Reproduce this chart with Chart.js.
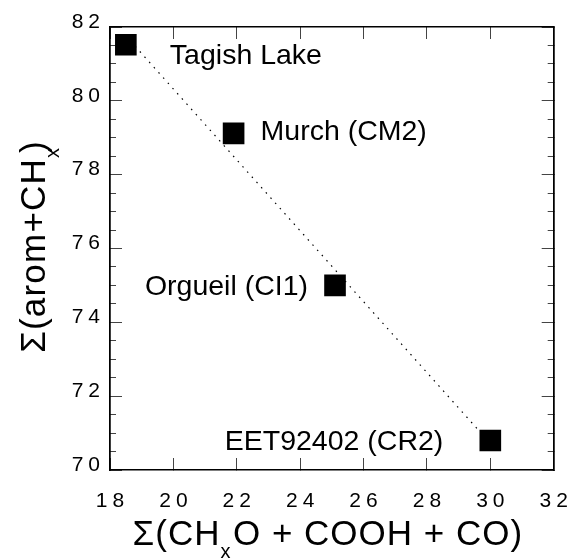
<!DOCTYPE html>
<html>
<head>
<meta charset="utf-8">
<script src="https://cdn.jsdelivr.net/npm/chart.js@4.4.1/dist/chart.umd.min.js"></script>
<style>
  html, body { margin: 0; background: #fff; }
  #wrap { position: relative; width: 569px; height: 558px; }
</style>
</head>
<body>
<div id="wrap"><canvas id="c"></canvas></div>
<script>
const FONT = "'Liberation Sans', Arial, Helvetica, sans-serif";

// samples
const NAMES = ['Tagish Lake', 'Murch (CM2)', 'Orgueil (CI1)', 'EET92402 (CR2)'];
const X_VALS = [18.5, 21.9, 25.1, 30.0];     // Σ(CHxO + COOH + CO)
const Y_VALS = [81.52, 79.12, 75.0, 70.8];   // Σ(arom+CHx)

// dotted trend line end points
const FIT_X = [18.5, 30.0];
const FIT_Y = [81.76, 70.72];

const X_TICKS = [18, 20, 22, 24, 26, 28, 30, 32];
const Y_TICKS = [70, 72, 74, 76, 78, 80, 82];
const Y_MINOR = 0.5;

// label placement relative to the marker: dx, baseline dy, alignment
const LABEL_POS = [[44, 19, 'left'], [27, 7, 'left'], [-27, 9.5, 'right'], [-47, 9.5, 'right']];

const X_TITLE = [['Σ(CH', 0], ['x', 1], ['O + COOH + CO)', 0]];
const Y_TITLE = [['Σ(arom+CH', 0], ['x', 1], [')', 0]];

const xMin = X_TICKS[0], xMax = X_TICKS[X_TICKS.length - 1], xStep = X_TICKS[1] - X_TICKS[0];
const yMin = Y_TICKS[0], yMax = Y_TICKS[Y_TICKS.length - 1], yStep = Y_TICKS[1] - Y_TICKS[0];

const TICK_COLOR = '#444';
const border = { display: true, color: '#000', width: 1.5 };

// keep the plot frame where the original has it, whatever the labels want
const noPad = s => { s.paddingLeft = s.paddingRight = s.paddingTop = s.paddingBottom = 0; };

// an axis that only contributes inward tick marks
function tickAxis(position, min, max, step, len) {
  return {
    type: 'linear', position, min, max,
    border,
    grid: { drawOnChartArea: false, drawTicks: true, tickLength: -len, color: TICK_COLOR, lineWidth: 1 },
    ticks: { display: false, stepSize: step, maxTicksLimit: 40 },
    afterFit: s => { if (s.isHorizontal()) s.height = 0; else s.width = 0; noPad(s); },
  };
}

function drawRich(ctx, parts, cx, baseY, size, subSize, subDrop, subAdv, sp) {
  const widths = parts.map(([t, sub]) => {
    ctx.font = (sub ? subSize : size) + 'px ' + FONT;
    ctx.letterSpacing = sub ? '0px' : sp + 'px';
    return ctx.measureText(t).width * (sub ? subAdv : 1);
  });
  let x = cx - widths.reduce((a, b) => a + b, 0) / 2;
  parts.forEach(([t, sub], i) => {
    ctx.font = (sub ? subSize : size) + 'px ' + FONT;
    ctx.letterSpacing = sub ? '0px' : sp + 'px';
    ctx.fillText(t, x, baseY + (sub ? subDrop : 0));
    x += widths[i];
  });
  ctx.letterSpacing = '0px';
}

// spaced-out tick numbers like the original, normal spacing for everything else
const spacing = {
  id: 'spacing',
  beforeDraw(chart) { chart.ctx.letterSpacing = '5px'; },
  beforeDatasetsDraw(chart) { chart.ctx.letterSpacing = '0px'; },
};

const annotate = {
  id: 'annotate',
  afterDraw(chart) {
    const { ctx, scales } = chart;
    ctx.save();
    ctx.letterSpacing = '0px';
    ctx.fillStyle = '#000';
    ctx.textBaseline = 'alphabetic';

    // sample names next to their markers
    ctx.font = '28.5px ' + FONT;
    NAMES.forEach((n, i) => {
      const [dx, dy, align] = LABEL_POS[i];
      ctx.textAlign = align;
      ctx.fillText(n, scales.x.getPixelForValue(X_VALS[i]) + dx, scales.y.getPixelForValue(Y_VALS[i]) + dy);
    });

    // axis titles with subscript x
    ctx.textAlign = 'left';
    const ca = chart.chartArea;
    drawRich(ctx, X_TITLE, (ca.left + ca.right) / 2 - 4, 545, 35, 20, 13, 1.25, 1);
    ctx.translate(45, (ca.top + ca.bottom) / 2 - 2);
    ctx.rotate(-Math.PI / 2);
    drawRich(ctx, Y_TITLE, 0, 0, 35, 20, 14, 0.5, 1.2);
    ctx.restore();
  },
};

new Chart(document.getElementById('c'), {
  data: {
    datasets: [
      {
        type: 'scatter',
        data: NAMES.map((n, i) => ({ x: X_VALS[i], y: Y_VALS[i] })),
        pointStyle: 'rect', pointRadius: 15.3, pointHoverRadius: 15.3,
        backgroundColor: '#000', borderColor: '#000', borderWidth: 0,
        order: 0,
      },
      {
        type: 'line',
        data: FIT_X.map((x, i) => ({ x, y: FIT_Y[i] })),
        borderColor: '#000', borderWidth: 1.2, borderDash: [1.5, 5.5],
        pointRadius: 0, fill: false, order: 1,
      },
    ],
  },
  options: {
    responsive: true,
    maintainAspectRatio: false,
    animation: false,
    events: [],
    layout: { padding: { top: 27, right: 15, left: 0, bottom: 0 } },
    plugins: { legend: { display: false }, tooltip: { enabled: false } },
    scales: {
      x: {
        type: 'linear', position: 'bottom', min: xMin, max: xMax,
        border,
        grid: { drawOnChartArea: false, tickLength: -12, color: TICK_COLOR, lineWidth: 1 },
        ticks: { stepSize: xStep, padding: 31, labelOffset: 2.5, color: '#000', font: { family: FONT, size: 21 }, maxRotation: 0 },
        afterFit: s => { s.height = 88; noPad(s); },
      },
      xTop: tickAxis('top', xMin, xMax, xStep, 12),
      y: {
        type: 'linear', position: 'left', min: yMin, max: yMax, weight: 1,
        border,
        grid: { drawOnChartArea: false, tickLength: -12, color: TICK_COLOR, lineWidth: 1 },
        ticks: { stepSize: yStep, padding: 17, labelOffset: -5, color: '#000', font: { family: FONT, size: 21 } },
        afterFit: s => { s.width = 110; noPad(s); },
      },
      yMinor: tickAxis('left', yMin, yMax, Y_MINOR, 6),
      yRight: tickAxis('right', yMin, yMax, yStep, 12),
      yRightMinor: tickAxis('right', yMin, yMax, Y_MINOR, 6),
    },
  },
  plugins: [spacing, annotate],
});
</script>
</body>
</html>
